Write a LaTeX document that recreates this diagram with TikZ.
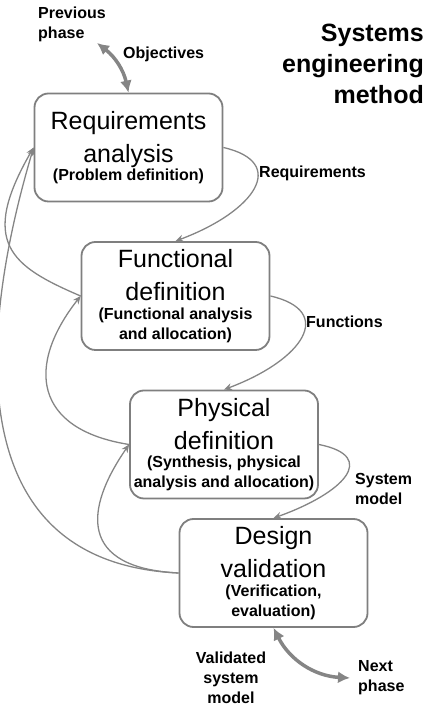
\documentclass[tikz,border=0pt]{standalone}
\usepackage{fontspec}
\setmainfont{Liberation Sans}
\usetikzlibrary{arrows.meta, positioning}
\definecolor{boxGray}{HTML}{7F7F7F}
\definecolor{lineGray}{HTML}{858585}
\newcommand{\mainsz}{\fontsize{25}{33}\selectfont}
\newcommand{\subsz}{\fontsize{16}{20}\selectfont\bfseries}
\tikzset{
  boxStep/.style={rectangle, rounded corners=14pt, draw=boxGray, line width=1.8pt,
                  fill=white, align=center, font=\mainsz, inner sep=0pt,
                  minimum width=188pt, minimum height=108pt},
  arrowFlow/.style={-{Stealth[length=8pt,width=7pt]}, lineGray, line width=1.3pt},
  arrowPhase/.style={{Latex[length=12pt,width=12pt]}-{Latex[length=12pt,width=12pt]},
                     lineGray, line width=3.5pt},
  lblB/.style={font=\subsz, inner sep=0pt},
}

\begin{document}
\begin{tikzpicture}[x=1pt, y=1pt]
    \useasboundingbox (0,0) rectangle (431,714);
    % the four steps
    \node[boxStep] (req) at (128.5,566.5)
      {Requirements\\analysis\\[-14.5pt]\subsz (Problem definition)};
    \node[boxStep] (func) at (175.5,418)
      {Functional\\definition\\[-14.5pt]\subsz (Functional analysis\\[-13pt]\subsz and allocation)};
    \node[boxStep] (phys) at (224,269.5)
      {Physical\\definition\\[-14.5pt]\subsz (Synthesis, physical\\[-13pt]\subsz analysis and allocation)};
    \node[boxStep] (design) at (273.5,141)
      {Design\\validation\\[-14.5pt]\subsz (Verification,\\[-13pt]\subsz evaluation)};
    % labels
    \node[font=\fontsize{25}{31}\selectfont\bfseries, inner sep=0pt, anchor=east,
          align=right] (title) at (424,650) {Systems\\engineering\\method};
    \node[lblB, anchor=west, align=left] (prev) at (38,689.5) {Previous\\phase};
    \node[lblB, anchor=west] (obj) at (123,660) {Objectives};
    \node[lblB, anchor=west] (lreq) at (259,541) {Requirements};
    \node[lblB, anchor=west] (lfun) at (306,392) {Functions};
    \node[lblB, anchor=west, align=left] (lsys) at (355,225) {System\\model};
    \node[lblB, align=center] (lval) at (231,36) {Validated\\system\\model};
    \node[lblB, anchor=west, align=left] (next) at (358,36) {Next\\phase};
    \coordinate (prevEnd) at (97,671);
    \coordinate (nextEnd) at (350,36);
    % forward flow
    \draw[arrowFlow] (req.east) .. controls +(65,-15) and +(80,30) .. (func.north);
    \draw[arrowFlow] (func.east) .. controls +(65,-15) and +(80,30) .. (phys.north);
    \draw[arrowFlow] (phys.east) .. controls +(60,-12) and +(70,25) .. (design.north);
    % feedback loops
    \draw[arrowFlow] (design.west) .. controls +(-220,10) and +(-55,-185) .. (req.west);
    \draw[arrowFlow] (func.west) .. controls +(-70,30) and +(-55,-95) .. (req.west);
    \draw[arrowFlow] (phys.west) .. controls +(-95,15) and +(-55,-70) .. (func.west);
    \draw[arrowFlow] (design.west) .. controls +(-100,5) and +(-45,-65) .. (phys.west);
    % phases
    \draw[arrowPhase] (req.north) to[bend right=20] (prevEnd);
    \draw[arrowPhase] (design.south) to[bend right=30] (nextEnd);
\end{tikzpicture}
\end{document}
